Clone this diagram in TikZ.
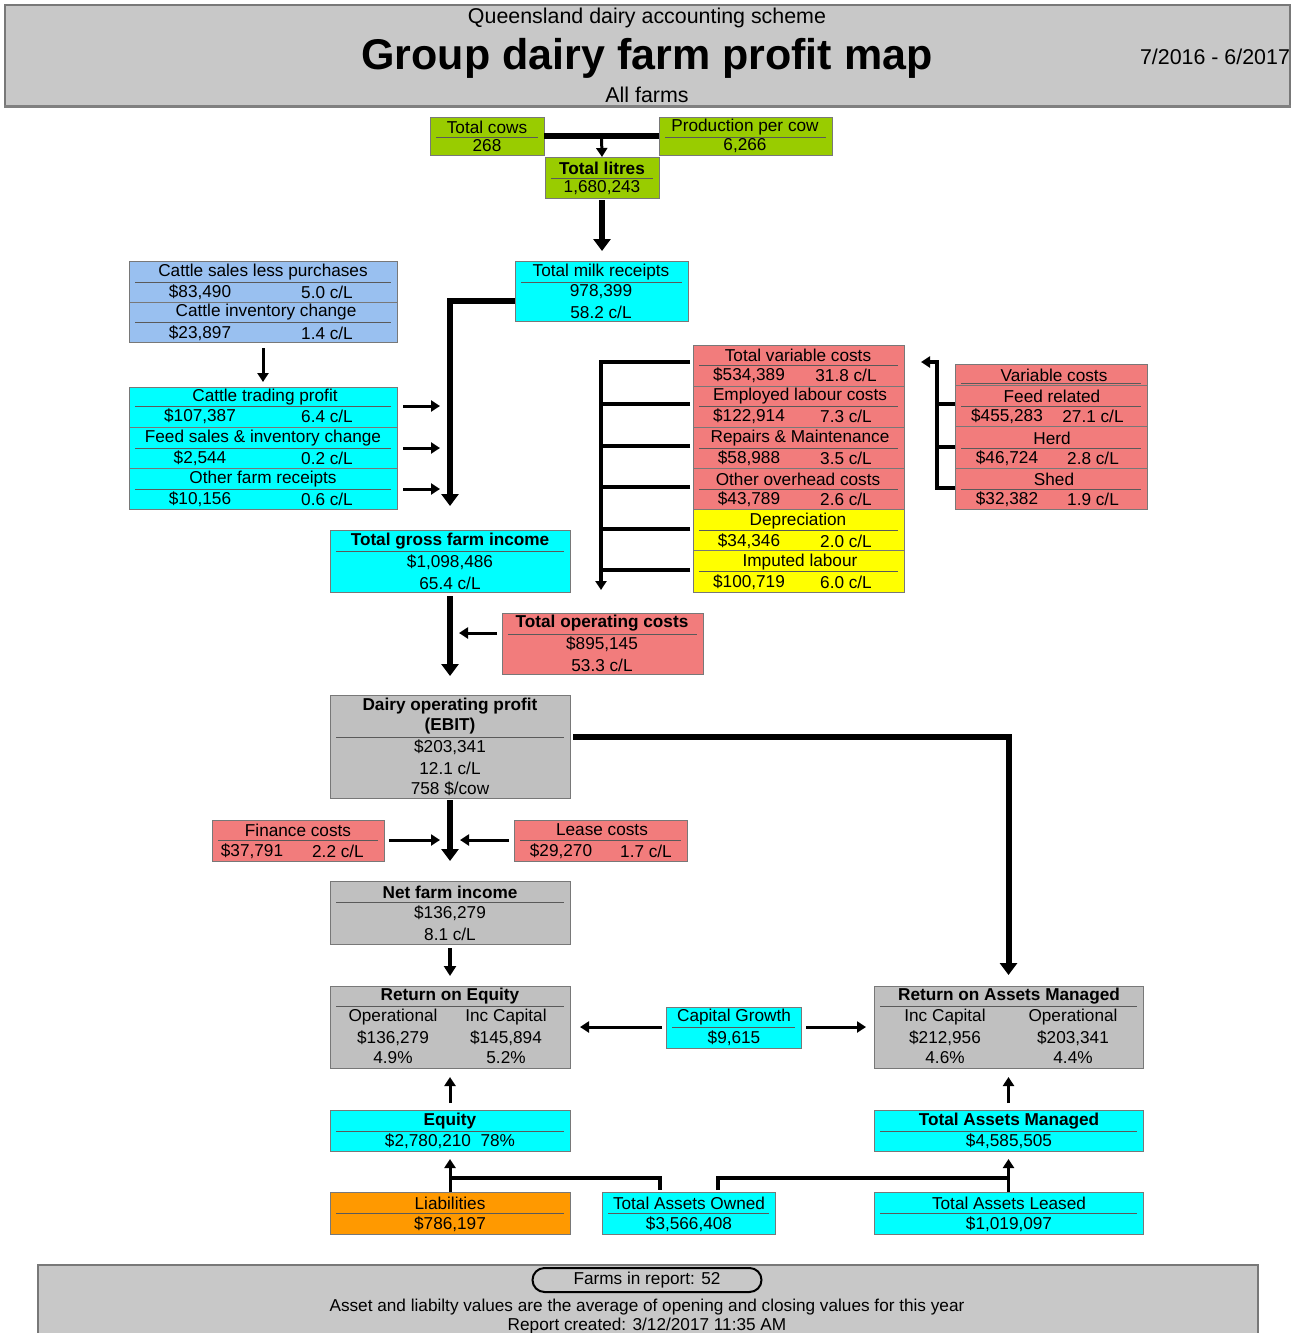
\documentclass[tikz,border=0pt]{standalone}
\usepackage{fontspec}
\setmainfont{Liberation Sans}
\usetikzlibrary{arrows.meta,calc}
\definecolor{cgreen}{RGB}{153,204,0}
\definecolor{ccyan}{RGB}{0,255,255}
\definecolor{cred}{RGB}{242,124,124}
\definecolor{cyel}{RGB}{255,255,0}
\definecolor{cblue}{RGB}{153,192,240}
\definecolor{cgray}{RGB}{192,192,192}
\definecolor{corange}{RGB}{255,153,0}
\definecolor{chdr}{RGB}{200,200,200}
\definecolor{boxline}{RGB}{120,120,120}
\definecolor{seplc}{RGB}{90,90,90}
\newcommand\bx[6]{\node[bxs,fill=#6,minimum width={(#4-#2)*0.5pt},minimum height={(#5-#3)*0.5pt}] (#1) at ({(#2+#4)/2},{(#3+#5)/2}) {};}
\newcommand\sepr[2]{\draw[sepl] ($(#1.north west)+(6,#2)$) -- ($(#1.north east)+(-6,#2)$);}
\begin{document}
\begin{tikzpicture}[x=0.5pt,y=-0.5pt,
  bxs/.style={draw=boxline,line width=0.5pt,inner sep=0pt,outer sep=0pt},
  tx/.style={inner sep=0pt,font=\fontsize{8.6}{10}\selectfont},
  tb/.style={inner sep=0pt,font=\fontsize{8.6}{10}\selectfont\bfseries},
  hd/.style={inner sep=0pt,font=\fontsize{10.7}{12}\selectfont},
  sepl/.style={draw=seplc,line width=0.5pt},
  thkline/.style={line width=3pt},
  thk/.style={line width=3pt,-{Triangle[width=8.5pt,length=6pt]}},
  thn/.style={line width=1.5pt,-{Triangle[width=5.5pt,length=4.5pt]}},
  midline/.style={line width=1.8pt},
  midarr/.style={line width=1.8pt,-{Triangle[width=5.5pt,length=4.5pt]}},
  barline/.style={line width=2.2pt}]
\useasboundingbox (0,0) rectangle (1300,1333);
% header
\node[fill=chdr,draw=boxline,line width=0.6pt,inner sep=0pt,minimum width=642.5pt,minimum height=50.5pt] (header) at (647.5,55.5) {};
\draw[line width=1.2pt,draw=gray] (header.south west) -- (header.south east);
\node[hd] (hsub) at (647,18) {Queensland dairy accounting scheme};
\node[inner sep=0pt,font=\fontsize{21.5}{24}\selectfont\bfseries] (htitle) at (647,58) {Group dairy farm profit map};
\node[hd] (hall) at (647,95) {All farms};
\node[hd] (hdate) at (1215,57) {7/2016 - 6/2017};
% production
\bx{cows}{430}{117}{544}{155}{cgreen}\sepr{cows}{20}
\node[tx] at (487,127) {Total cows}; \node[tx] at (487,146) {268};
\bx{ppc}{659}{117}{832}{155}{cgreen}\sepr{ppc}{20}
\node[tx] at (745,127) {Production per cow}; \node[tx] at (745,146) {6,266};
\bx{litres}{545}{157}{659}{198}{cgreen}\sepr{litres}{21}
\node[tb] at (602,168) {Total litres}; \node[tx] at (602,188) {1,680,243};
\draw[thkline] (cows.east) -- (ppc.west);
\draw[thn] ($(cows.east)!0.5!(ppc.west)$) -- (litres.north);
% milk receipts
\bx{milk}{515}{261}{688}{321}{ccyan}\sepr{milk}{21}
\node[tx] at (601,272) {Total milk receipts}; \node[tx] at (601,292) {978,399}; \node[tx] at (601,312) {58.2 c/L};
\draw[thk,shorten <=1pt,shorten >=5pt] (litres.south) -- (litres.south |- milk.north);
% cattle
\bx{cat1}{129}{261}{397}{302}{cblue}\sepr{cat1}{21}
\node[tx] at (263,272) {Cattle sales less purchases};
\node[tx] at (200,292) {\$83,490}; \node[tx] at (327,292) {5.0 c/L};
\bx{cat2}{129}{302}{397}{342}{cblue}\sepr{cat2}{20}
\node[tx] at (266,312) {Cattle inventory change};
\node[tx] at (200,333) {\$23,897}; \node[tx] at (327,333) {1.4 c/L};
\bx{ctp}{129}{387}{397}{427}{ccyan}\sepr{ctp}{19}
\node[tx] at (265,397) {Cattle trading profit};
\node[tx] at (200,416) {\$107,387}; \node[tx] at (327,416) {6.4 c/L};
\bx{feed}{129}{427}{397}{468}{ccyan}\sepr{feed}{21}
\node[tx] at (263,438) {Feed sales \& inventory change};
\node[tx] at (200,458) {\$2,544}; \node[tx] at (327,458) {0.2 c/L};
\bx{other}{129}{468}{397}{509}{ccyan}\sepr{other}{21}
\node[tx] at (263,479) {Other farm receipts};
\node[tx] at (200,499) {\$10,156}; \node[tx] at (327,499) {0.6 c/L};
\draw[thn,shorten <=3pt,shorten >=2.5pt] (cat2.south -| 263,0) -- (ctp.north -| 263,0);
\draw[thn] ($(ctp.north east)+(6,19)$) -- ($(ctp.north east)+(43,19)$);
\draw[thn] ($(feed.north east)+(6,21)$) -- ($(feed.north east)+(43,21)$);
\draw[thn] ($(other.north east)+(6,21)$) -- ($(other.north east)+(43,21)$);
% gross income
\bx{gross}{330}{530}{570}{592}{ccyan}\sepr{gross}{21}
\node[tb] at (450,541) {Total gross farm income};
\node[tx] at (450,562) {\$1,098,486}; \node[tx] at (450,583) {65.4 c/L};
\draw[thk,shorten >=12pt] ($(milk.west)+(0,10)$) -| (gross.north);
% costs column
\bx{tvc}{693}{345}{904}{386}{cred}\sepr{tvc}{20}
\node[tx] at (798,355) {Total variable costs};
\node[tx] at (749,375) {\$534,389}; \node[tx] at (846,375) {31.8 c/L};
\bx{elc}{693}{386}{904}{427}{cred}\sepr{elc}{20}
\node[tx] at (800,396) {Employed labour costs};
\node[tx] at (749,416) {\$122,914}; \node[tx] at (846,416) {7.3 c/L};
\bx{rm}{693}{427}{904}{468}{cred}\sepr{rm}{21}
\node[tx] at (800,438) {Repairs \& Maintenance};
\node[tx] at (749,458) {\$58,988}; \node[tx] at (846,458) {3.5 c/L};
\bx{ooc}{693}{468}{904}{509}{cred}\sepr{ooc}{21}
\node[tx] at (798,479) {Other overhead costs};
\node[tx] at (749,499) {\$43,789}; \node[tx] at (846,499) {2.6 c/L};
\bx{dep}{693}{509}{904}{550}{cyel}\sepr{dep}{21}
\node[tx] at (798,521) {Depreciation};
\node[tx] at (749,541) {\$34,346}; \node[tx] at (846,541) {2.0 c/L};
\bx{imp}{693}{550}{904}{592}{cyel}\sepr{imp}{21}
\node[tx] at (800,562) {Imputed labour};
\node[tx] at (749,582) {\$100,719}; \node[tx] at (846,582) {6.0 c/L};
\coordinate (cb) at (601,590);
\draw[barline,-{Triangle[width=5.5pt,length=4.5pt]}] ($(tvc.north west)+(-3,17)$) -| (cb);
\draw[barline] ($(elc.north west)+(-3,18)$) -- ($(elc.north west -| cb)+(0,18)$);
\draw[barline] ($(rm.north west)+(-3,19)$) -- ($(rm.north west -| cb)+(0,19)$);
\draw[barline] ($(ooc.north west)+(-3,19)$) -- ($(ooc.north west -| cb)+(0,19)$);
\draw[barline] ($(dep.north west)+(-3,20)$) -- ($(dep.north west -| cb)+(0,20)$);
\draw[barline] ($(imp.north west)+(-3,20)$) -- ($(imp.north west -| cb)+(0,20)$);
% variable cost breakdown
\bx{vc}{955}{364}{1147}{385}{cred}\sepr{vc}{19}
\node[tx] at (1054,375) {Variable costs};
\bx{fr}{955}{385}{1147}{426}{cred}\sepr{fr}{21}
\node[tx] at (1052,396) {Feed related};
\node[tx] at (1007,416) {\$455,283}; \node[tx] at (1093,416) {27.1 c/L};
\bx{herd}{955}{426}{1147}{468}{cred}\sepr{herd}{22}
\node[tx] at (1052,438) {Herd};
\node[tx] at (1007,458) {\$46,724}; \node[tx] at (1093,458) {2.8 c/L};
\bx{shed}{955}{468}{1147}{509}{cred}\sepr{shed}{21}
\node[tx] at (1054,479) {Shed};
\node[tx] at (1007,499) {\$32,382}; \node[tx] at (1093,499) {1.9 c/L};
\coordinate (vcend) at ($(tvc.north east)+(17,17)$);
\draw[barline,-{Triangle[width=5.5pt,length=4.5pt]}] ($(shed.north west)+(0,20)$) -| ($(vcend)+(16,0)$) -- (vcend);
\draw[barline] ($(fr.north west)+(0,19)$) -- ($(fr.north west)+(-18,19)$);
\draw[barline] ($(herd.north west)+(0,21)$) -- ($(herd.north west)+(-18,21)$);
% operating costs
\bx{toc}{502}{613}{703}{674}{cred}\sepr{toc}{21}
\node[tb] at (602,623) {Total operating costs};
\node[tx] at (602,644) {\$895,145}; \node[tx] at (602,665) {53.3 c/L};
\draw[thn] ($(toc.north west)+(-5,20)$) -- ($(toc.north west)+(-43,20)$);
% EBIT
\bx{ebit}{330}{695}{570}{798}{cgray}\sepr{ebit}{42}
\node[tb] at (450,706) {Dairy operating profit};
\node[tb] at (450,726) {(EBIT)};
\node[tx] at (450,747) {\$203,341}; \node[tx] at (450,768) {12.1 c/L}; \node[tx] at (450,789) {758 \$/cow};
\draw[thk,shorten <=2pt,shorten >=9.5pt] (gross.south) -- (ebit.north);
% finance / lease
\bx{fin}{212}{820}{384}{861}{cred}\sepr{fin}{20}
\node[tx] at (298,830) {Finance costs};
\node[tx] at (252,851) {\$37,791}; \node[tx] at (338,851) {2.2 c/L};
\bx{lease}{514}{820}{687}{861}{cred}\sepr{lease}{20}
\node[tx] at (602,830) {Lease costs};
\node[tx] at (561,851) {\$29,270}; \node[tx] at (646,851) {1.7 c/L};
% net farm income
\bx{net}{330}{881}{570}{944}{cgray}\sepr{net}{21}
\node[tb] at (450,892) {Net farm income};
\node[tx] at (450,913) {\$136,279}; \node[tx] at (450,934) {8.1 c/L};
\draw[thk,shorten <=1pt,shorten >=10pt] (ebit.south) -- (net.north);
\draw[thn] ($(fin.north east)+(5,20)$) -- ($(fin.north east)+(56,20)$);
\draw[thn] ($(lease.north west)+(-5,20)$) -- ($(lease.north west)+(-54,20)$);
% returns
\bx{roe}{330}{986}{570}{1068}{cgray}\sepr{roe}{20}
\node[tb] at (450,996) {Return on Equity};
\node[tx] at (393,1017) {Operational}; \node[tx] at (506,1017) {Inc Capital};
\node[tx] at (393,1038) {\$136,279}; \node[tx] at (506,1038) {\$145,894};
\node[tx] at (393,1058) {4.9\%}; \node[tx] at (506,1058) {5.2\%};
\draw[line width=2.2pt,-{Triangle[width=6pt,length=5pt]},shorten <=2pt,shorten >=5pt] (net.south) -- (roe.north);
\bx{capg}{666}{1007}{801}{1048}{ccyan}\sepr{capg}{20}
\node[tx] at (734,1017) {Capital Growth}; \node[tx] at (734,1038) {\$9,615};
\bx{roam}{874}{986}{1143}{1068}{cgray}\sepr{roam}{20}
\node[tb] at (1009,996) {Return on Assets Managed};
\node[tx] at (945,1017) {Inc Capital}; \node[tx] at (1073,1017) {Operational};
\node[tx] at (945,1038) {\$212,956}; \node[tx] at (1073,1038) {\$203,341};
\node[tx] at (945,1058) {4.6\%}; \node[tx] at (1073,1058) {4.4\%};
\draw[thk,shorten >=5.5pt] ($(ebit.north east)+(3,42)$) -| (roam.north);
\draw[thn] ($(capg.north west)+(-4,20)$) -- ($(capg.north west)+(-86,20)$);
\draw[thn] ($(capg.north east)+(5,20)$) -- ($(capg.north east)+(65,20)$);
% equity / assets
\bx{equity}{330}{1110}{570}{1151}{ccyan}\sepr{equity}{21}
\node[tb] at (450,1121) {Equity}; \node[tx] at (450,1141) {\$2,780,210\ \ 78\%};
\bx{tam}{874}{1110}{1143}{1151}{ccyan}\sepr{tam}{21}
\node[tb] at (1009,1121) {Total Assets Managed}; \node[tx] at (1009,1141) {\$4,585,505};
\draw[thn,shorten <=3.5pt,shorten >=4.5pt] (equity.north) -- (roe.south);
\draw[thn,shorten <=3.5pt,shorten >=4.5pt] (tam.north) -- (roam.south);
\bx{liab}{330}{1192}{570}{1234}{corange}\sepr{liab}{21}
\node[tx] at (450,1203) {Liabilities}; \node[tx] at (450,1224) {\$786,197};
\bx{tao}{602}{1192}{775}{1234}{ccyan}\sepr{tao}{21}
\node[tx] at (689,1203) {Total Assets Owned}; \node[tx] at (689,1224) {\$3,566,408};
\bx{tal}{874}{1192}{1143}{1234}{ccyan}\sepr{tal}{21}
\node[tx] at (1009,1203) {Total Assets Leased}; \node[tx] at (1009,1224) {\$1,019,097};
\draw[thn,shorten >=4pt] (liab.north) -- (equity.south);
\draw[thn,shorten >=4pt] (tal.north) -- (tam.south);
\draw[midline] ($(liab.north)+(0,-14)$) -| ($(tao.north west)+(58,-2)$);
\draw[midline] ($(tao.north west)+(116,-2)$) |- ($(tal.north)+(0,-14)$);
% footer
\fill[chdr] (38,1265) rectangle (1258,1333);
\draw[boxline,line width=0.6pt] (38,1333) -- (38,1265) -- (1258,1265) -- (1258,1333);
\node[draw=black,line width=1pt,rounded corners=6pt,fill=chdr,minimum width=114.5pt,minimum height=12pt,inner sep=0pt,font=\fontsize{8.6}{10}\selectfont] (farms) at (647,1280) {Farms in report: 52};
\node[tx] (fnote) at (647,1307) {Asset and liabilty values are the average of opening and closing values for this year};
\node[tx] (fdate) at (647,1326) {Report created: 3/12/2017 11:35 AM};
\end{tikzpicture}
\end{document}
